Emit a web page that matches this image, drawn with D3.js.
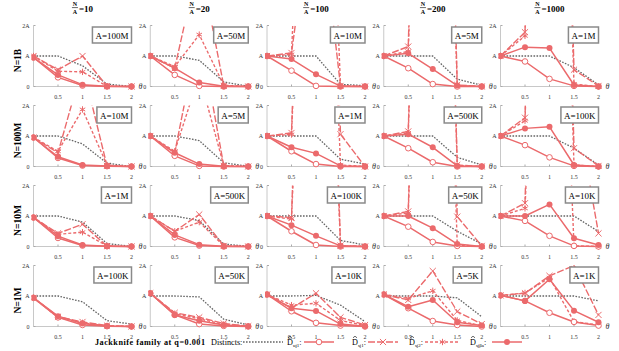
<!DOCTYPE html>
<html><head><meta charset="utf-8">
<script src="https://cdn.jsdelivr.net/npm/d3@7"></script>
<style>
body{margin:0;background:#fff}
svg text{font-family:"Liberation Serif","Times New Roman",serif}
</style>
</head><body><svg id="chart" width="619" height="351"></svg>
<script>
const thetas = [0, 0.5, 1, 1.5, 2];
const rowLabels = ["N=1B", "N=100M", "N=10M", "N=1M"];
const ratioLabels = ["10", "20", "100", "200", "1000"];
const boxLabels = [
  ["A=100M", "A=50M", "A=10M", "A=5M", "A=1M"],
  ["A=10M", "A=5M", "A=1M", "A=500K", "A=100K"],
  ["A=1M", "A=500K", "A=100K", "A=50K", "A=10K"],
  ["A=100K", "A=50K", "A=10K", "A=5K", "A=1K"]
];
// values in units of A, one row of panels per line group
const distincts = [
  [[1,1,0.68,0.08,0], [1,1,0.86,0.15,0.01], [1,1,1,0.07,0.03], [1,1,1,0.24,0.04], [1,1,1,0.62,0.05]],
  [[1,1,0.74,0.11,0], [1,1,0.85,0.12,0.01], [1,1,1,0.24,0.08], [1,1,1,0.3,0.05], [1,1,1,0.6,0.05]],
  [[1,1,0.8,0.1,0], [1,1,0.85,0.08,0.01], [1,1,1,0.2,0.05], [1,1,1,0.5,0.08], [1,1,1,1,0.49]],
  [[1,1,0.81,0.19,0.08], [1,1,0.97,0.24,0.05], [1,1,1.02,0.7,0.16], [1,1,1,0.94,0.32], [1,1,1,1,0.84]]
];
const uj1 = [
  [[0.95,0.3,0.03,0,0], [1,0.38,0.02,0,0], [1,0.52,0.02,0,0], [1,0.6,0.08,0,0], [1,0.82,0.25,0.02,0]],
  [[0.95,0.28,0.03,0.01,0], [1,0.35,0.02,0,0], [1,0.5,0.08,0,0], [1,0.6,0.14,0,0], [1,0.7,0.3,0.02,0]],
  [[0.95,0.28,0.03,0.01,0], [1,0.3,0.03,0,0], [1,0.5,0.05,0,0], [1,0.65,0.15,0.02,0], [1,0.84,0.35,0.02,0]],
  [[0.94,0.3,0.05,0.01,0], [1.09,0.38,0.08,0.02,0], [1.05,0.5,0.12,0.03,0], [1.05,0.6,0.18,0.05,0], [1.02,0.84,0.45,0.15,0.03]]
];
const sj1 = [
  [[1,0.55,1.0,0.01,0], [1,0.6,4.2,0.02,0], [1,1.1,7,0.02,0], [1,1.31,30,0.05,0], [1,1.78,30,0.55,0.02]],
  [[0.95,0.45,3.3,0.02,0], [1,0.45,4.5,0.02,0], [1,1.1,25,1.06,0], [1,1.15,30,0.05,0], [1,1.6,30,0.6,0.02]],
  [[0.95,0.43,0.73,0.01,0], [1,0.5,1.05,0.02,0], [1,0.95,25,0.03,0], [1,1.15,30,0.98,0.02], [1,1.42,30,5,0.43]],
  [[0.94,0.32,0.15,0.03,0], [1.09,0.45,0.3,0.1,0.01], [1.05,0.6,1.09,0.3,0.05], [1.05,0.87,1.82,0.49,0.08], [1.02,1.09,1.66,2.0,0.38]]
];
const sj2 = [
  [[1,0.5,0.48,0.01,0], [1,0.65,1.7,0.04,0], [1,1.05,20,0.02,0], [1,1.15,25,0.02,0], [1,1.66,25,0.08,0]],
  [[0.95,0.5,1.87,0.05,0], [1,0.5,3,0.03,0], [1,1.05,20,0.05,0], [1,1.1,25,0.02,0], [1,1.5,25,0.05,0]],
  [[0.95,0.4,0.47,0.02,0], [1,0.5,0.8,0.02,0], [1,0.9,20,0.02,0], [1,1.1,25,0.05,0], [1,1.25,20,0.02,0]],
  [[0.94,0.3,0.12,0.02,0], [1.09,0.42,0.25,0.07,0.01], [1.05,0.7,0.76,0.2,0.03], [1.05,0.92,1.17,0.2,0.02], [1.02,1.1,1.6,0.16,0.05]]
];
const sjba = [
  [[0.95,0.38,0.06,0.01,0], [1,0.6,0.13,0.01,0], [1,0.9,0.4,0.01,0], [1,1.09,0.57,0.03,0], [1,1.29,1.26,0.05,0]],
  [[0.95,0.32,0.05,0.02,0], [1,0.45,0.08,0.01,0], [1,0.63,0.43,0.02,0], [1,1.06,0.63,0.02,0], [1,1.25,1.3,0.05,0]],
  [[0.95,0.34,0.05,0.01,0], [1,0.38,0.06,0.01,0], [1,0.7,0.35,0.02,0], [1,1.0,0.6,0.08,0], [1,1.0,1.38,0.27,0.05]],
  [[0.94,0.34,0.1,0.02,0], [1.09,0.38,0.19,0.05,0.01], [1.05,0.6,0.51,0.08,0.01], [1.05,0.65,0.87,0.14,0.03], [1.02,0.84,1.55,0.52,0.14]]
];

const red = "#eb6a6c";
const gray = "#666";
const svg = d3.select("#chart");

const series = [
  { key: "distincts", data: distincts, color: gray, dash: "1.6,1.4", width: 1.3, marker: null },
  { key: "sj1", data: sj1, color: red, dash: "7,2", width: 1.4, marker: "times", sub: "sj1" },
  { key: "sj2", data: sj2, color: red, dash: "3,2", width: 1.4, marker: "star", sub: "sj2" },
  { key: "uj1", data: uj1, color: red, dash: null, width: 1.5, marker: "open", sub: "uj1" },
  { key: "sjba", data: sjba, color: red, dash: null, width: 1.5, marker: "filled", sub: "sjβa" }
];

const plotW = 98, plotH = 61;
const x = d3.scaleLinear().domain([0, 2]).range([0, plotW]);
const y = d3.scaleLinear().domain([0, 2]).range([plotH, 0]);
const line = d3.line().x((d, i) => x(thetas[i])).y(d => y(d));

function drawMarker(g, type, color) {
  if (type === "open") {
    g.append("circle").attr("r", 2.8).attr("fill", "#fff").attr("stroke", color).attr("stroke-width", 1);
  } else if (type === "filled") {
    g.append("circle").attr("r", 3).attr("fill", color);
  } else if (type === "times") {
    g.append("path").attr("d", d3.symbol(d3.symbolTimes, 26)()).attr("fill", "none")
      .attr("stroke", color).attr("stroke-width", 1);
  } else if (type === "star") {
    g.append("path").attr("d", d3.symbol(d3.symbolAsterisk, 28)()).attr("fill", "none")
      .attr("stroke", color).attr("stroke-width", 1);
  }
}

const defs = svg.append("defs");
defs.append("clipPath").attr("id", "clip")
  .append("rect").attr("x", -2).attr("y", 0).attr("width", plotW + 6).attr("height", plotH + 4);

rowLabels.forEach((rl, r) => {
  ratioLabels.forEach((rt, c) => {
    const x0 = 33.5 + c * 116.75, yTop = 25.5 + r * 80;
    const g = svg.append("g").attr("transform", `translate(${x0},${yTop})`);

    // axes
    g.append("line").attr("x1", 0).attr("x2", 0).attr("y1", 0).attr("y2", plotH)
      .attr("stroke", "#c8c8c8").attr("stroke-width", 1);
    g.append("line").attr("x1", 0).attr("x2", plotW).attr("y1", plotH).attr("y2", plotH)
      .attr("stroke", "#c8c8c8").attr("stroke-width", 1);
    const yt = [[0, "0"], [1, "A"], [2, "2A"]];
    yt.forEach(([v, t]) => {
      g.append("line").attr("x1", 0).attr("x2", 2).attr("y1", y(v)).attr("y2", y(v)).attr("stroke", "#aaa");
      g.append("text").attr("x", -4).attr("y", y(v) + 2).attr("text-anchor", "end")
        .attr("font-size", 6).attr("fill", "#333").text(t);
    });
    [0.5, 1, 1.5, 2].forEach(v => {
      g.append("line").attr("x1", x(v)).attr("x2", x(v)).attr("y1", plotH).attr("y2", plotH - 2).attr("stroke", "#aaa");
      g.append("text").attr("x", x(v)).attr("y", plotH + 12).attr("text-anchor", "middle")
        .attr("font-size", 6).attr("fill", "#333").text(v);
    });
    g.append("text").attr("x", plotW + 7).attr("y", plotH + 2.5).attr("font-size", 8)
      .attr("font-style", "italic").attr("fill", "#333").text("θ");

    // series
    const pg = g.append("g").attr("clip-path", "url(#clip)");
    series.forEach(s => {
      const vals = s.data[r][c];
      pg.append("path").attr("d", line(vals)).attr("fill", "none")
        .attr("stroke", s.color).attr("stroke-width", s.width)
        .attr("stroke-dasharray", s.dash).attr("stroke-linejoin", "round");
      if (s.marker) {
        vals.forEach((v, i) => {
          if (v > 2.05) return;
          drawMarker(pg.append("g").attr("transform", `translate(${x(thetas[i])},${y(v)})`), s.marker, s.color);
        });
      }
    });

    // A label box
    const bt = g.append("text").attr("font-size", 9).attr("y", 13).text(boxLabels[r][c]);
    const bw = bt.node().getComputedTextLength();
    bt.attr("x", plotW - 3 - bw);
    g.insert("rect", "text:last-child").attr("x", plotW - 6 - bw).attr("y", 1.5)
      .attr("width", bw + 6).attr("height", 16).attr("fill", "#fff")
      .attr("stroke", "#8a8a8a").attr("stroke-width", 1.5);
    bt.raise();

    // column title
    if (r === 0) {
      const cx = x0 + plotW / 2;
      const tg = svg.append("g");
      const eq = tg.append("text").attr("font-size", 9).attr("font-weight", "bold").attr("y", 12).text("=" + rt);
      const ew = eq.node().getComputedTextLength();
      const total = 7 + ew;
      const left = cx - total / 2;
      tg.append("text").attr("x", left + 3).attr("y", 6.3).attr("font-size", 6).attr("font-weight", "bold")
        .attr("text-anchor", "middle").text("N");
      tg.append("line").attr("x1", left).attr("x2", left + 6).attr("y1", 7.6).attr("y2", 7.6)
        .attr("stroke", "#000").attr("stroke-width", 0.6);
      tg.append("text").attr("x", left + 3).attr("y", 13.5).attr("font-size", 6).attr("font-weight", "bold")
        .attr("text-anchor", "middle").text("A");
      eq.attr("x", left + 7);
    }
    if (c === 0) {
      svg.append("text").attr("transform", `translate(21,${yTop + 35}) rotate(-90)`)
        .attr("text-anchor", "middle").attr("font-size", 9.5).attr("font-weight", "bold").text(rl);
    }
  });
});

// legend
const ly = 345;
svg.append("text").attr("x", 95).attr("y", ly).attr("font-size", 8.2).attr("font-weight", "bold")
  .attr("textLength", 110).text("Jackknife family at q=0.001");
const legItems = [
  { s: series[0], lx: 211, name: "Distincts:", sx: 243, len: 40 },
  { s: series[3], lx: 287, sx: 304, len: 30 },
  { s: series[1], lx: 352, sx: 368, len: 30 },
  { s: series[2], lx: 409, sx: 425, len: 35 },
  { s: series[4], lx: 470, sx: 492, len: 30 }
];
legItems.forEach(it => {
  if (it.name) {
    svg.append("text").attr("x", it.lx).attr("y", ly).attr("font-size", 8.2).text(it.name);
  } else {
    const t = svg.append("text").attr("x", it.lx).attr("y", ly).attr("font-size", 8.2);
    t.append("tspan").text("D");
    t.append("tspan").attr("font-size", 5).attr("dy", 1.8).text(it.s.sub);
    t.append("tspan").attr("dy", -1.8).text(":");
    const hx = it.lx + 3;
    svg.append("path").attr("d", `M${hx - 2},${ly - 7.2}L${hx},${ly - 8.8}L${hx + 2},${ly - 7.2}`)
      .attr("fill", "none").attr("stroke", "#000").attr("stroke-width", 0.6);
  }
  svg.append("line").attr("x1", it.sx).attr("x2", it.sx + it.len).attr("y1", ly - 3).attr("y2", ly - 3)
    .attr("stroke", it.s.color).attr("stroke-width", it.s.width).attr("stroke-dasharray", it.s.dash);
  if (it.s.marker) drawMarker(svg.append("g").attr("transform", `translate(${it.sx + it.len / 2},${ly - 3})`), it.s.marker, it.s.color);
});
</script>
</body></html>
